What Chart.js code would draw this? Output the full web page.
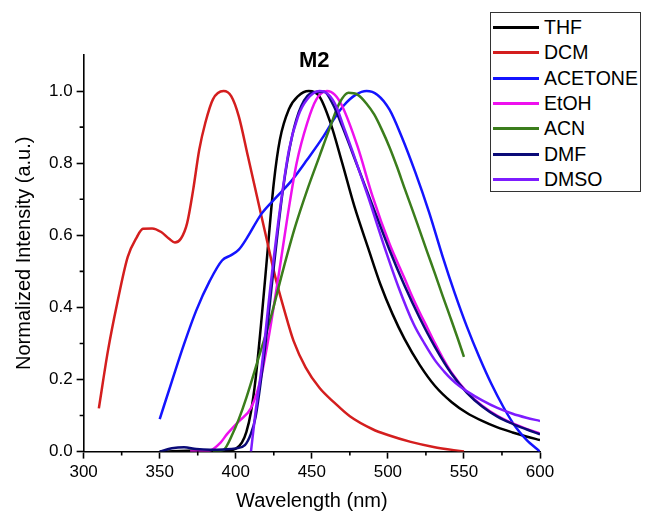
<!DOCTYPE html>
<html>
<head>
<meta charset="utf-8">
<script src="https://cdn.jsdelivr.net/npm/chart.js@4/dist/chart.umd.min.js"></script>
<style>
  body { margin: 0; background: #fff; }
  #wrap { position: relative; width: 646px; height: 513px; }
  #title { position: absolute; left: 299px; top: 47px; font: bold 22px "Liberation Sans", Arial, sans-serif; color: #000; }
  #legend { position: absolute; left: 490px; top: 12px; width: 151px; height: 180px; border: 1px solid #333; background: #fff; box-sizing: border-box; padding-top: 2px; }
  .row { height: 25.3px; display: flex; align-items: center; font: 19.5px "Liberation Sans", Arial, sans-serif; color: #000; }
  .swatch { width: 46px; height: 3px; margin: 0 5px 0 2px; }
</style>
</head>
<body>
<div id="wrap">
  <canvas id="chart" width="646" height="513"></canvas>
  <div id="title">M2</div>
  <div id="legend"></div>
</div>
<script>
// DATA
const names = ['THF', 'DCM', 'ACETONE', 'EtOH', 'ACN', 'DMF', 'DMSO'];
const colors = ['#000000', '#d41e1e', '#1414ff', '#ee10ee', '#3b7d1c', '#0a0a78', '#7d1cff'];

const thfX = [350, 375, 395, 400, 404, 407, 410, 413, 417, 421, 425, 429, 435, 441, 448, 455, 462, 470, 478, 487, 495, 503, 511, 521, 531, 542, 552, 562, 572, 582, 591, 600];
const thfY = [0, 0.003, 0.003, 0.008, 0.025, 0.055, 0.11, 0.2, 0.37, 0.56, 0.745, 0.865, 0.95, 0.986, 1.0, 0.985, 0.915, 0.80, 0.68, 0.565, 0.465, 0.382, 0.312, 0.24, 0.182, 0.137, 0.107, 0.085, 0.067, 0.053, 0.042, 0.032];

const dcmX = [310, 316, 322, 329, 335, 339, 345, 351, 356, 360, 364, 368, 372, 376, 380, 385, 392, 397, 402, 408, 414, 420, 426, 432, 438, 446, 455, 465, 475, 490, 500, 515, 530, 550];
const dcmY = [0.12, 0.28, 0.41, 0.54, 0.595, 0.618, 0.619, 0.609, 0.591, 0.58, 0.591, 0.633, 0.726, 0.837, 0.912, 0.977, 1.0, 0.986, 0.93, 0.819, 0.707, 0.595, 0.484, 0.391, 0.307, 0.233, 0.177, 0.135, 0.098, 0.062, 0.046, 0.027, 0.013, 0.0];

const acetoneX = [350, 358, 366, 374, 383, 391, 397, 402, 407, 417, 427, 437, 447, 457, 465, 471, 479, 486, 493, 501, 509, 518, 527, 536, 544, 552, 560, 568, 576, 584, 591, 600];
const acetoneY = [0.09, 0.195, 0.298, 0.391, 0.474, 0.53, 0.545, 0.56, 0.59, 0.66, 0.707, 0.753, 0.81, 0.87, 0.925, 0.96, 0.99, 1.0, 0.99, 0.949, 0.874, 0.775, 0.665, 0.541, 0.439, 0.346, 0.263, 0.188, 0.123, 0.068, 0.033, 0.0];

const etohX = [370, 383, 390, 394, 402, 410, 416, 422, 428, 434, 440, 447, 453, 460, 465, 470, 480, 490, 501, 511, 516, 521, 526, 531, 536, 542, 552, 562, 572, 582, 591, 600];
const etohY = [0, 0.003, 0.025, 0.047, 0.084, 0.121, 0.195, 0.326, 0.484, 0.651, 0.8, 0.912, 0.977, 1.0, 0.99, 0.958, 0.847, 0.707, 0.577, 0.48, 0.43, 0.385, 0.343, 0.3, 0.26, 0.218, 0.165, 0.127, 0.099, 0.078, 0.063, 0.05];

const acnX = [385, 392, 398, 402, 407, 415, 423, 431, 439, 447, 455, 462, 468, 474, 480, 486, 491, 496, 501, 506, 511, 516, 521, 526, 531, 536, 541, 546, 550];
const acnY = [0, 0.005, 0.05, 0.09, 0.15, 0.26, 0.372, 0.502, 0.623, 0.726, 0.819, 0.9, 0.965, 0.995, 0.99, 0.965, 0.935, 0.893, 0.845, 0.79, 0.73, 0.672, 0.612, 0.552, 0.493, 0.432, 0.373, 0.313, 0.263];

const dmfX = [350, 358, 366, 374, 383, 392, 400, 406, 410, 413, 419, 425, 431, 437, 443, 451, 458, 464, 470, 481, 491, 501, 511, 521, 531, 542, 552, 562, 572, 582, 591, 600];
const dmfY = [0, 0.009, 0.012, 0.007, 0.005, 0.006, 0.009, 0.018, 0.05, 0.095, 0.28, 0.512, 0.726, 0.874, 0.958, 0.997, 0.998, 0.962, 0.902, 0.781, 0.67, 0.56, 0.46, 0.37, 0.29, 0.215, 0.163, 0.125, 0.097, 0.077, 0.062, 0.048];

const dmsoX = [410, 413, 417, 423, 429, 435, 441, 447, 455, 461, 466, 471, 477, 487, 497, 507, 517, 524, 531, 537, 542, 547, 552, 562, 572, 582, 591, 600];
const dmsoY = [0, 0.11, 0.233, 0.465, 0.67, 0.837, 0.93, 0.977, 1.0, 0.99, 0.958, 0.9, 0.83, 0.707, 0.577, 0.456, 0.353, 0.3, 0.253, 0.222, 0.2, 0.182, 0.167, 0.142, 0.121, 0.105, 0.094, 0.085];

const xMinor = [325, 375, 425, 475, 525, 575];
const yMinor = [0.1, 0.3, 0.5, 0.7, 0.9];

const seriesX = [thfX, dcmX, acetoneX, etohX, acnX, dmfX, dmsoX];
const seriesY = [thfY, dcmY, acetoneY, etohY, acnY, dmfY, dmsoY];

const font = '"Liberation Sans", Arial, sans-serif';

// short minor ticks (Origin style)
const minorTicks = {
  id: 'minorTicks',
  afterDraw(chart) {
    const ctx = chart.ctx, xs = chart.scales.x, ys = chart.scales.y;
    ctx.save();
    ctx.strokeStyle = '#000';
    ctx.lineWidth = 1.6;
    ctx.beginPath();
    xMinor.forEach(v => {
      const p = xs.getPixelForValue(v);
      ctx.moveTo(p, xs.top);
      ctx.lineTo(p, xs.top + 4);
    });
    yMinor.forEach(v => {
      const p = ys.getPixelForValue(v);
      ctx.moveTo(ys.right, p);
      ctx.lineTo(ys.right - 4, p);
    });
    ctx.stroke();
    ctx.restore();
  }
};

const datasets = names.map((name, i) => ({
  label: name,
  data: seriesX[i].map((x, j) => ({ x: x, y: seriesY[i][j] })),
  borderColor: colors[i],
  borderWidth: 2.5,
  pointRadius: 0,
  fill: false,
  cubicInterpolationMode: 'monotone',
  order: -i
}));

new Chart(document.getElementById('chart'), {
  type: 'line',
  data: { datasets: datasets },
  options: {
    responsive: false,
    animation: false,
    devicePixelRatio: 1,
    layout: { padding: { left: 8, right: 106, top: 55, bottom: 0 } },
    plugins: { legend: { display: false }, tooltip: { enabled: false } },
    scales: {
      x: {
        type: 'linear',
        min: 300,
        max: 600,
        ticks: { stepSize: 50, color: '#000', font: { family: font, size: 17 }, padding: 4, maxRotation: 0 },
        grid: { drawOnChartArea: false, drawTicks: true, tickLength: 7, tickWidth: 1.6, tickColor: '#000' },
        border: { display: true, color: '#000', width: 1.6 },
        title: { display: true, text: 'Wavelength (nm)', color: '#000', font: { family: font, size: 20 }, padding: { top: 2, bottom: 0 } }
      },
      y: {
        min: 0,
        max: 1.1,
        ticks: { stepSize: 0.2, includeBounds: false, color: '#000', font: { family: font, size: 17 }, padding: 4,
          callback: v => v.toFixed(1) },
        grid: { drawOnChartArea: false, drawTicks: true, tickLength: 7, tickWidth: 1.6, tickColor: '#000' },
        border: { display: true, color: '#000', width: 1.6 },
        title: { display: true, text: 'Normalized Intensity (a.u.)', color: '#000', font: { family: font, size: 20 }, padding: { top: 4, bottom: 9 } }
      }
    }
  },
  plugins: [minorTicks]
});

// legend built from the series names / colours
const legend = document.getElementById('legend');
names.forEach((name, i) => {
  const row = document.createElement('div');
  row.className = 'row';
  row.innerHTML = '<span class="swatch" style="background:' + colors[i] + '"></span>' + name;
  legend.appendChild(row);
});
</script>
</body>
</html>
